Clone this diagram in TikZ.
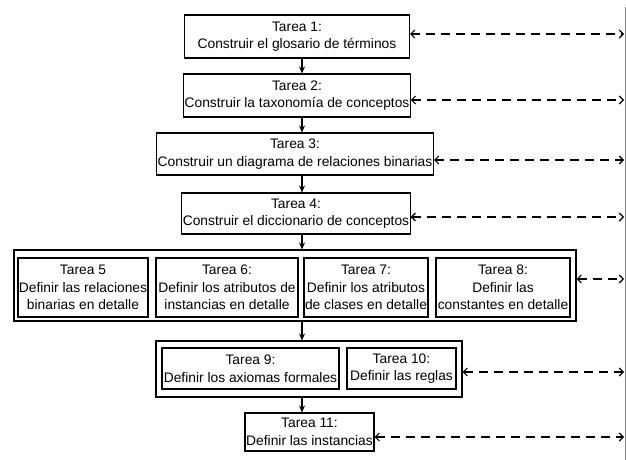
\documentclass[tikz,border=0pt]{standalone}
\usepackage{fontspec}
\setmainfont{Liberation Sans}
\usetikzlibrary{arrows.meta}

\tikzset{
  tarea/.style={draw, line width=1.1pt, align=center, inner sep=1pt,
    font=\fontsize{13.8}{17.5}\selectfont},
  grupo/.style={draw, line width=1.1pt, inner sep=0pt},
  paso/.style={-{Stealth[length=7pt,width=6pt]}, line width=1.1pt},
  enlace/.style={{Straight Barb[length=4pt,width=8pt]}-{Straight Barb[length=4pt,width=8pt]},
    line width=1.1pt, dash pattern=on 9pt off 6pt}
}

\begin{document}
\begin{tikzpicture}[x=1pt, y=-1pt]
    \useasboundingbox (0,0) rectangle (626,460);
    % tareas 1 a 4
    \node[tarea, minimum width=225pt, minimum height=43pt] (t1) at (297,36.5) {Tarea 1:\\Construir el glosario de términos};
    \node[tarea, minimum width=225pt, minimum height=43pt] (t2) at (297,95.5) {Tarea 2:\\Construir la taxonomía de conceptos};
    \node[tarea, minimum width=277pt, minimum height=42pt] (t3) at (295,154) {Tarea 3:\\Construir un diagrama de relaciones binarias};
    \node[tarea, minimum width=227pt, minimum height=41pt] (t4) at (296,213.5) {Tarea 4:\\Construir el diccionario de conceptos};
    % tareas 5 a 8
    \node[grupo, minimum width=562pt, minimum height=71pt] (g58) at (295,285.5) {};
    \node[tarea, minimum width=130pt, minimum height=59pt] (t5) at (83,287.5) {Tarea 5\\Definir las relaciones\\binarias en detalle};
    \node[tarea, minimum width=142pt, minimum height=59pt] (t6) at (227,287.5) {Tarea 6:\\Definir los atributos de\\instancias en detalle};
    \node[tarea, minimum width=120pt, minimum height=59pt] (t7) at (366,287.5) {Tarea 7:\\Definir los atributos\\de clases en detalle};
    \node[tarea, minimum width=134pt, minimum height=59pt] (t8) at (503,287.5) {Tarea 8:\\Definir las\\constantes en detalle};
    % tareas 9 y 10
    \node[grupo, minimum width=306pt, minimum height=56pt] (g910) at (309,369) {};
    \node[tarea, minimum width=177pt, minimum height=41pt] (t9) at (250.5,368.5) {Tarea 9:\\Definir los axiomas formales};
    \node[tarea, minimum width=109pt, minimum height=41pt] (t10) at (401.5,368.5) {Tarea 10:\\Definir las reglas};
    % tarea 11
    \node[tarea, minimum width=129pt, minimum height=38pt] (t11) at (309.5,432) {Tarea 11:\\Definir las instancias};

    % borde derecho
    \coordinate (bt) at (625,7);
    \coordinate (bb) at (625,460);
    \draw[gray, line width=0.8pt] (bt) -- (bb);

    % flujo vertical
    \coordinate (eje) at (302,0);
    \draw[paso] (t1.south -| eje) -- (t2.north -| eje);
    \draw[paso] (t2.south -| eje) -- (t3.north -| eje);
    \draw[paso] (t3.south -| eje) -- (t4.north -| eje);
    \draw[paso] (t4.south -| eje) -- (g58.north -| eje);
    \draw[paso] (g58.south -| eje) -- (g910.north -| eje);
    \draw[paso] (g910.south -| eje) -- (t11.north -| eje);

    % enlaces punteados
    \coordinate (r1) at (624,34);
    \coordinate (r2) at (624,100);
    \coordinate (r3) at (624,160);
    \coordinate (r4) at (624,217);
    \coordinate (r5) at (624,279);
    \coordinate (r6) at (624,372);
    \coordinate (r7) at (624,437);
    \draw[enlace] (t1.east |- r1) -- (r1);
    \draw[enlace] (t2.east |- r2) -- (r2);
    \draw[enlace] (t3.east |- r3) -- (r3);
    \draw[enlace] (t4.east |- r4) -- (r4);
    \draw[enlace] (g58.east |- r5) -- (r5);
    \draw[enlace] (g910.east |- r6) -- (r6);
    \draw[enlace] (t11.east |- r7) -- (r7);
\end{tikzpicture}
\end{document}
